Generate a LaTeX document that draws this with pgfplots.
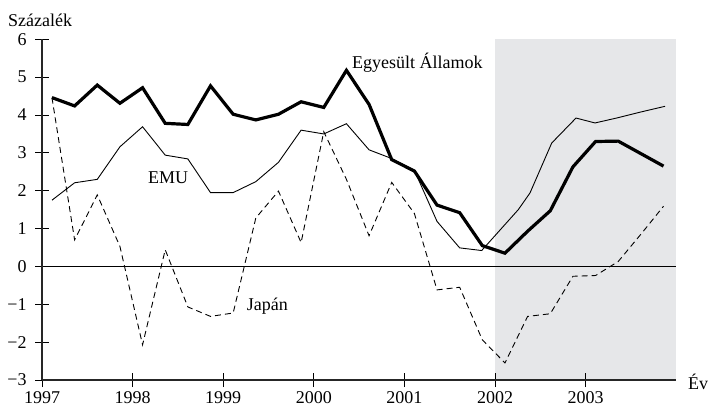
\documentclass[border=0pt]{standalone}
\usepackage{fontspec}
\setmainfont{Liberation Serif}
\usepackage{pgfplots}
\pgfplotsset{compat=1.18}
\definecolor{shadegray}{HTML}{E6E7E9}
\begin{document}
\begin{tikzpicture}[font=\fontsize{18bp}{21bp}\selectfont]
\useasboundingbox (-42bp,-29bp) rectangle (667bp,380bp);
\begin{axis}[
  at={(0,0)}, anchor=south west,
  scale only axis, width=634.2bp, height=340.7bp,
  xmin=1997, xmax=2004, ymin=-3, ymax=6,
  axis lines=left,
  axis line style={-, line width=1.1bp, black!85},
  tick align=center, major tick length=14bp,
  tick style={line width=1bp, black},
  xtick={1997,1998,1999,2000,2001,2002,2003},
  xticklabels={1997,1998,1999,2000,2001,2002,2003},
  ytick={-3,-2,-1,0,1,2,3,4,5,6},
  yticklabels={−3,−2,−1,0,1,2,3,4,5,6},
  yticklabel style={xshift=-5bp},
  xticklabel style={yshift=-1.5bp},
  clip=false, axis on top,
]
\fill[shadegray] (axis cs:2002,-3) rectangle (axis cs:2004,6);
\addplot[black, line width=1bp] coordinates {(1997,0) (2004,0)};
% Japan
\addplot[black, line width=0.9bp, dash pattern=on 6bp off 4bp] coordinates {
(1997.11,4.46) (1997.36,0.70) (1997.61,1.89) (1997.86,0.53) (1998.11,-2.07)
(1998.36,0.44) (1998.61,-1.07) (1998.86,-1.32) (1999.11,-1.23) (1999.36,1.28)
(1999.61,1.99) (1999.86,0.63) (2000.11,3.56) (2000.36,2.30) (2000.61,0.81)
(2000.86,2.22) (2001.11,1.40) (2001.36,-0.62) (2001.61,-0.55) (2001.86,-1.94)
(2002.11,-2.55) (2002.36,-1.32) (2002.61,-1.25) (2002.86,-0.26) (2003.11,-0.24)
(2003.36,0.13) (2003.61,0.85) (2003.86,1.59)};
% EMU
\addplot[black, line width=0.9bp] coordinates {
(1997.11,1.75) (1997.36,2.21) (1997.61,2.30) (1997.86,3.16) (1998.11,3.69)
(1998.36,2.94) (1998.61,2.84) (1998.86,1.95) (1999.11,1.95) (1999.36,2.24)
(1999.61,2.75) (1999.86,3.60) (2000.11,3.50) (2000.36,3.77) (2000.61,3.08)
(2000.86,2.85) (2001.11,2.54) (2001.36,1.19) (2001.61,0.49) (2001.853,0.42)
(2002.257,1.50) (2002.386,1.94) (2002.626,3.26) (2002.894,3.92) (2003.104,3.79)
(2003.36,3.93) (2003.61,4.08) (2003.877,4.23)};
% USA
\addplot[black, line width=3.2bp, line join=miter] coordinates {
(1997.11,4.46) (1997.36,4.24) (1997.61,4.79) (1997.86,4.31) (1998.11,4.72)
(1998.36,3.78) (1998.61,3.75) (1998.86,4.77) (1999.11,4.02) (1999.36,3.87)
(1999.61,4.02) (1999.86,4.35) (2000.11,4.20) (2000.36,5.18) (2000.61,4.28)
(2000.86,2.82) (2001.11,2.52) (2001.36,1.62) (2001.61,1.42) (2001.86,0.55)
(2002.11,0.35) (2002.36,0.93) (2002.61,1.47) (2002.86,2.63) (2003.11,3.30)
(2003.36,3.31) (2003.61,2.98) (2003.86,2.65)};
\node[anchor=base west, inner sep=0pt] at (axis cs:2000.42,5.24) {Egyesült Államok};
\node[anchor=base west, inner sep=0pt] at (axis cs:1998.17,2.18) {EMU};
\node[anchor=base west, inner sep=0pt] at (axis cs:1999.26,-1.17) {Japán};
\node[anchor=base west, inner sep=0pt] at (axis cs:1996.625,6.34) {Százalék};
\node[anchor=base west, inner sep=0pt] at (axis cs:2004.13,-3.26) {Év};
\end{axis}
\end{tikzpicture}
\end{document}
